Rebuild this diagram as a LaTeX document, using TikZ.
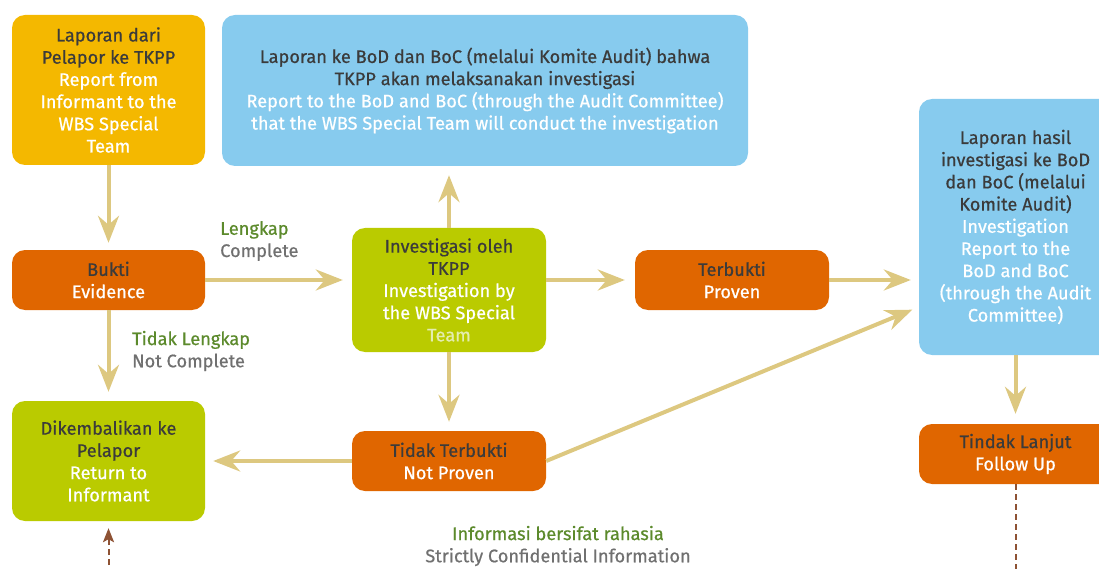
\documentclass[tikz,border=0pt]{standalone}
\usepackage{fontspec}
\setmainfont{Fira Sans}[UprightFeatures={FakeBold=0.6}]
\usetikzlibrary{arrows.meta,calc}
\definecolor{cyel}{HTML}{F4B800}
\definecolor{cblue}{HTML}{87CBEE}
\definecolor{corange}{HTML}{E06600}
\definecolor{cgreen}{HTML}{BACB00}
\definecolor{ctan}{HTML}{DDC880}
\definecolor{cbrown}{HTML}{8E5234}
\definecolor{cdark}{HTML}{3B3B3B}
\definecolor{clgreen}{HTML}{5C8A2C}
\definecolor{cgrey}{HTML}{707070}
\definecolor{cpale}{HTML}{E4EDB0}
\tikzset{
  boxbase/.style={rounded corners=13pt, inner sep=0pt, align=center, text=cdark,
    font=\fontsize{18.2}{22.2}\selectfont},
  ybox/.style={boxbase, fill=cyel},
  bbox/.style={boxbase, fill=cblue},
  obox/.style={boxbase, fill=corange},
  gbox/.style={boxbase, fill=cgreen},
  flow/.style={draw=ctan, line width=4pt, -{Stealth[length=27pt,width=21pt,inset=9pt]}},
  dflow/.style={draw=cbrown, line width=2pt, dash pattern=on 6pt off 4pt},
  lbl/.style={inner sep=0pt, font=\fontsize{18.2}{22.2}\selectfont},
}
\newcommand{\wt}[1]{\textcolor{white}{#1}}
\begin{document}
\begin{tikzpicture}[x=1pt,y=-1pt]
\useasboundingbox (0,0) rectangle (1099,569);
\clip (0,0) rectangle (1099,569);
\node[ybox, minimum width=193pt, minimum height=150pt] (A) at (108.5,90)
  {Laporan dari\\Pelapor ke TKPP\\\wt{Report from}\\\wt{Informant to the}\\\wt{WBS Special}\\\wt{Team}};
\node[bbox, minimum width=526pt, minimum height=151pt] (B) at (485,90.5)
  {Laporan ke BoD dan BoC (melalui Komite Audit) bahwa\\TKPP akan melaksanakan investigasi\\\wt{Report to the BoD and BoC (through the Audit Committee)}\\\wt{that the WBS Special Team will conduct the investigation}};
\node[obox, minimum width=193pt, minimum height=60pt] (bukti) at (108.5,280)
  {Bukti\\\wt{Evidence}};
\node[gbox, minimum width=194pt, minimum height=124pt] (inv) at (449,290)
  {Investigasi oleh\\TKPP\\\wt{Investigation by}\\\wt{the WBS Special}\\\textcolor{cpale}{Team}};
\node[obox, minimum width=194pt, minimum height=60pt] (terb) at (732,280)
  {Terbukti\\\wt{Proven}};
\node[bbox, minimum width=193pt, minimum height=256pt] (R) at (1015.5,227)
  {Laporan hasil\\investigasi ke BoD\\dan BoC (melalui\\Komite Audit)\\\wt{Investigation}\\\wt{Report to the}\\\wt{BoD and BoC}\\\wt{(through the Audit}\\\wt{Committee)}};
\node[gbox, minimum width=193pt, minimum height=120pt] (dik) at (108.5,461)
  {Dikembalikan ke\\Pelapor\\\wt{Return to}\\\wt{Informant}};
\node[obox, minimum width=194pt, minimum height=60pt] (tidak) at (449,461)
  {Tidak Terbukti\\\wt{Not Proven}};
\node[obox, minimum width=193pt, minimum height=60pt] (tl) at (1015.5,454)
  {Tindak Lanjut\\\wt{Follow Up}};
\node[lbl, anchor=west, align=left] (lk) at (220,241)
  {\textcolor{clgreen}{Lengkap}\\\textcolor{cgrey}{Complete}};
\node[lbl, anchor=west, align=left] (tlk) at (132,351)
  {\textcolor{clgreen}{Tidak Lengkap}\\\textcolor{cgrey}{Not Complete}};
\node[lbl, align=center] (conf) at (558,546)
  {\textcolor{clgreen}{Informasi bersifat rahasia}\\\textcolor{cgrey}{Strictly Confidential Information}};
\coordinate (dbot1) at (108.5,575);
\coordinate (dbot2) at (1015.5,575);
\coordinate (rin) at ($(R.west)+(0,80)$);
% connectors
\draw[flow, shorten >=7pt] (A.south) -- (bukti.north);
\draw[flow, shorten >=9pt] (bukti.east) -- (bukti.east -| inv.west);
\draw[flow, shorten >=9pt] (inv.north) -- (inv.north |- B.south);
\draw[flow, shorten >=10pt] (terb.west -| inv.east) -- (terb.west);
\draw[flow, shorten >=8pt] (terb.east) -- (terb.east -| R.west);
\draw[flow, shorten >=9pt] (inv.south) -- (tidak.north);
\draw[flow, shorten >=7pt] (tidak.east) -- (rin);
\draw[flow, shorten >=9pt] (bukti.south) -- (dik.north);
\draw[flow, shorten >=8pt] (tidak.west) -- (tidak.west -| dik.east);
\draw[flow, shorten >=10pt] (R.south) -- (tl.north);
\draw[dflow, -{Stealth[length=14pt,width=11pt,inset=3pt]}, shorten >=7pt] (dbot1) -- (dik.south);
\draw[dflow] (tl.south) -- (dbot2);
\end{tikzpicture}
\end{document}
